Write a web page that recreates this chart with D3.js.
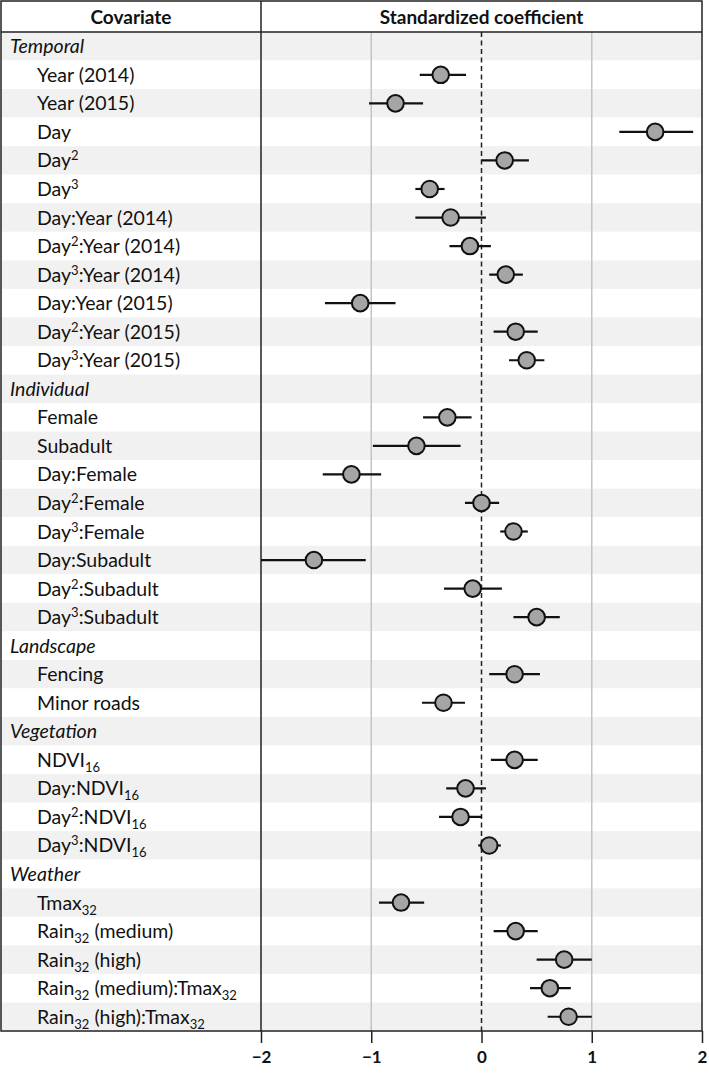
<!DOCTYPE html>
<html><head><meta charset="utf-8">
<script src="https://cdn.jsdelivr.net/npm/d3@7"></script>
<style>body{margin:0;background:#fff}</style>
</head><body>
<svg id="chart" width="709" height="1073"></svg>
<script>
// ---- data ----
const groups = ["Temporal", "Individual", "Landscape", "Vegetation", "Weather"];
const covariates = [
  "Year (2014)", "Year (2015)", "Day", "Day^{2}", "Day^{3}",
  "Day:Year (2014)", "Day^{2}:Year (2014)", "Day^{3}:Year (2014)",
  "Day:Year (2015)", "Day^{2}:Year (2015)", "Day^{3}:Year (2015)",
  "Female", "Subadult", "Day:Female", "Day^{2}:Female", "Day^{3}:Female",
  "Day:Subadult", "Day^{2}:Subadult", "Day^{3}:Subadult",
  "Fencing", "Minor roads",
  "NDVI_{16}", "Day:NDVI_{16}", "Day^{2}:NDVI_{16}", "Day^{3}:NDVI_{16}",
  "Tmax_{32}", "Rain_{32} (medium)", "Rain_{32} (high)",
  "Rain_{32} (medium):Tmax_{32}", "Rain_{32} (high):Tmax_{32}"
];
const covGroup = [
  "Temporal","Temporal","Temporal","Temporal","Temporal","Temporal","Temporal","Temporal","Temporal","Temporal","Temporal",
  "Individual","Individual","Individual","Individual","Individual","Individual","Individual","Individual",
  "Landscape","Landscape",
  "Vegetation","Vegetation","Vegetation","Vegetation",
  "Weather","Weather","Weather","Weather","Weather"
];
const estimate = [
  -0.37, -0.78, 1.575, 0.21, -0.47, -0.28, -0.105, 0.22, -1.10, 0.31, 0.41,
  -0.31, -0.59, -1.18, 0.00, 0.29, -1.52, -0.08, 0.50,
  0.30, -0.345,
  0.30, -0.145, -0.19, 0.07,
  -0.73, 0.31, 0.75, 0.62, 0.79
];
const lower = [
  -0.56, -1.02, 1.25, 0.00, -0.60, -0.60, -0.29, 0.07, -1.42, 0.11, 0.25,
  -0.53, -0.985, -1.44, -0.15, 0.17, -2.00, -0.34, 0.29,
  0.07, -0.54,
  0.085, -0.32, -0.385, -0.03,
  -0.93, 0.11, 0.50, 0.44, 0.60
];
const upper = [
  -0.14, -0.53, 1.92, 0.43, -0.335, 0.04, 0.085, 0.375, -0.78, 0.51, 0.57,
  -0.09, -0.19, -0.91, 0.16, 0.42, -1.05, 0.185, 0.71,
  0.53, -0.15,
  0.51, 0.04, 0.005, 0.175,
  -0.52, 0.51, 1.00, 0.81, 1.00
];
const tickValues = [-2, -1, 0, 1, 2];
const headerLeft = "Covariate";
const headerRight = "Standardized coefficient";

// ---- build rows ----
const rows = [];
groups.forEach(g => {
  rows.push({type: "group", label: g});
  covariates.forEach((c, i) => {
    if (covGroup[i] === g) rows.push({type: "item", label: c, est: estimate[i], lo: lower[i], hi: upper[i]});
  });
});

const FONT = "Lato, 'Open Sans', sans-serif";
const svg = d3.select("#chart");
const L = 1, R = 702, T = 1, divX = 261, headB = 32, B = 1031;

const x = d3.scaleLinear().domain([-2, 2]).range([divX, R]);
const y = d3.scaleBand().domain(d3.range(rows.length)).range([headB, B]).padding(0);
const bw = y.bandwidth();

// stripes
svg.append("g").selectAll("rect").data(rows).join("rect")
  .attr("x", L).attr("width", R - L)
  .attr("y", (d, i) => y(i)).attr("height", bw)
  .attr("fill", (d, i) => i % 2 === 0 ? "#f1f1f1" : "#ffffff");

// gridlines
svg.append("g").selectAll("line").data(tickValues.filter(v => v === -1 || v === 1)).join("line")
  .attr("x1", d => x(d)).attr("x2", d => x(d)).attr("y1", headB).attr("y2", B)
  .attr("stroke", "#c4c4c4").attr("stroke-width", 1.5);
svg.append("line")
  .attr("x1", x(0)).attr("x2", x(0)).attr("y1", headB).attr("y2", B)
  .attr("stroke", "#222").attr("stroke-width", 1.5).attr("stroke-dasharray", "5,3.5");

// frame
svg.append("rect").attr("x", L).attr("y", T).attr("width", R - L).attr("height", B - T)
  .attr("fill", "none").attr("stroke", "#222").attr("stroke-width", 1.5);
svg.append("line").attr("x1", L).attr("x2", R).attr("y1", headB).attr("y2", headB)
  .attr("stroke", "#222").attr("stroke-width", 1.5);
svg.append("line").attr("x1", divX).attr("x2", divX).attr("y1", T).attr("y2", B)
  .attr("stroke", "#222").attr("stroke-width", 1.5);

// headers
svg.append("text").attr("x", (L + divX) / 2).attr("y", 24).attr("text-anchor", "middle")
  .attr("font-family", FONT).attr("font-weight", "bold").attr("font-size", 19).attr("fill", "#111")
  .text(headerLeft);
svg.append("text").attr("x", (divX + R) / 2).attr("y", 24).attr("text-anchor", "middle")
  .attr("font-family", FONT).attr("font-weight", "bold").attr("font-size", 19).attr("fill", "#111")
  .text(headerRight);

// labels with sub/superscripts
function addLabel(sel, s) {
  const re = /([\^_])\{([^}]*)\}/g;
  let last = 0, m, shift = 0;
  while ((m = re.exec(s)) !== null) {
    if (m.index > last) {
      sel.append("tspan").attr("dy", -shift).text(s.slice(last, m.index));
      shift = 0;
    }
    const d = m[1] === "^" ? -7 : 5;
    sel.append("tspan").attr("dy", d - shift).attr("font-size", 13).text(m[2]);
    shift = d;
    last = re.lastIndex;
  }
  if (last < s.length) sel.append("tspan").attr("dy", -shift).text(s.slice(last));
}
const lab = svg.append("g").attr("font-family", FONT).attr("font-size", 19.5).attr("fill", "#111");
rows.forEach((r, i) => {
  const t = lab.append("text")
    .attr("x", r.type === "group" ? 10 : 37)
    .attr("y", y(i) + bw / 2 + 7)
    .attr("font-style", r.type === "group" ? "italic" : "normal");
  addLabel(t, r.label);
});

// whiskers and points
const items = rows.map((r, i) => ({...r, i})).filter(r => r.type === "item");
svg.append("g").selectAll("line").data(items).join("line")
  .attr("x1", d => x(d.lo)).attr("x2", d => x(d.hi))
  .attr("y1", d => y(d.i) + bw / 2).attr("y2", d => y(d.i) + bw / 2)
  .attr("stroke", "#111").attr("stroke-width", 2.2);
svg.append("g").selectAll("circle").data(items).join("circle")
  .attr("cx", d => x(d.est)).attr("cy", d => y(d.i) + bw / 2).attr("r", 8.3)
  .attr("fill", "#a5a5a5").attr("stroke", "#111").attr("stroke-width", 2);

// axis
const axis = d3.axisBottom(x).tickValues(tickValues).tickSize(12).tickPadding(8)
  .tickFormat(d => d < 0 ? "\u2212" + Math.abs(d) : String(d));
const ag = svg.append("g").attr("transform", `translate(0,${B})`).call(axis);
ag.select(".domain").remove();
ag.selectAll(".tick line").attr("stroke", "#222").attr("stroke-width", 1.5);
ag.selectAll(".tick text").attr("font-family", FONT).attr("font-weight", "bold")
  .attr("font-size", 17).attr("fill", "#111");
</script>
</body></html>
